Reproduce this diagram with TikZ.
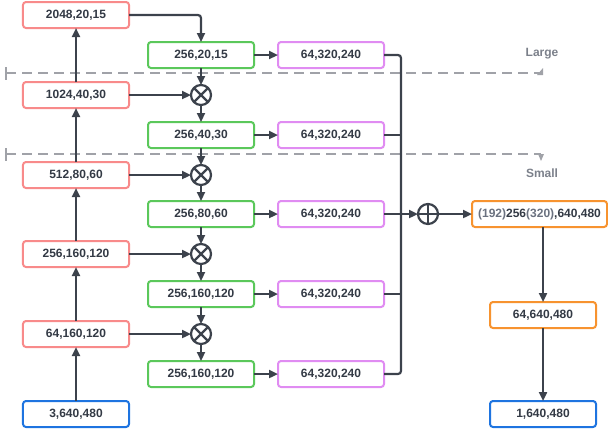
\documentclass[tikz,border=0pt]{standalone}
\usepackage{fontspec}
\setmainfont{Liberation Sans}
\usetikzlibrary{arrows.meta}
\definecolor{txt}{HTML}{333A45}
\definecolor{ln}{HTML}{3C424C}
\definecolor{redc}{HTML}{F88A8A}
\definecolor{grnc}{HTML}{5BC85B}
\definecolor{purc}{HTML}{E08CF2}
\definecolor{orgc}{HTML}{F7932F}
\definecolor{bluc}{HTML}{1E74E0}
\definecolor{dashc}{HTML}{A0A2A8}
\definecolor{lblc}{HTML}{7B808A}
\definecolor{subc}{HTML}{6B7280}
\begin{document}
\begin{tikzpicture}[x=1bp,y=-1bp,
  box/.style={draw, rounded corners=3bp, line width=2bp, minimum width=106bp, minimum height=26bp,
    inner sep=0pt, outer sep=0pt, fill=white, text=txt, font=\fontsize{12bp}{14bp}\selectfont\bfseries},
  redb/.style={box, draw=redc},
  grnb/.style={box, draw=grnc},
  purb/.style={box, draw=purc},
  orgb/.style={box, draw=orgc},
  blub/.style={box, draw=bluc},
  opc/.style={circle, draw=ln, line width=2.2bp, minimum size=20bp, inner sep=0pt, outer sep=0pt},
  conn/.style={draw=ln, line width=2.2bp},
  arr/.style={conn, -{Triangle[length=9bp,width=8bp]}},
  dsh/.style={draw=dashc, line width=1.5bp, dash pattern=on 10bp off 6bp},
  lbl/.style={text=lblc, font=\fontsize{12bp}{14bp}\selectfont\bfseries, inner sep=0pt}
]
\useasboundingbox (0,0) rectangle (608,430);

% dashed separators
\draw[dsh] (6,73) -- (541,73);
\draw[draw=dashc, line width=1.5bp] (6,67) -- (6,80);
\fill[dashc] (537,75) -- (543,75) -- (543,68) -- cycle;
\draw[dsh] (6,154) -- (541,154);
\draw[draw=dashc, line width=1.5bp] (6,148) -- (6,161);
\fill[dashc] (538,154) -- (544,154) -- (541,161) -- cycle;
\node[lbl] (large) at (542,54) {Large};
\node[lbl] (small) at (542,173) {Small};

% encoder (red)
\node[redb] (r1) at (76,15) {2048,20,15};
\node[redb] (r2) at (76,95) {1024,40,30};
\node[redb] (r3) at (76,175) {512,80,60};
\node[redb] (r4) at (76,254) {256,160,120};
\node[redb] (r5) at (76,334) {64,160,120};
\node[blub] (in) at (76,414) {3,640,480};

% green
\node[grnb] (g1) at (201,55) {256,20,15};
\node[grnb] (g2) at (201,135) {256,40,30};
\node[grnb] (g3) at (201,214) {256,80,60};
\node[grnb] (g4) at (201,294) {256,160,120};
\node[grnb] (g5) at (201,374) {256,160,120};

% purple
\node[purb] (p1) at (331,55) {64,320,240};
\node[purb] (p2) at (331,135) {64,320,240};
\node[purb] (p3) at (331,214) {64,320,240};
\node[purb] (p4) at (331,294) {64,320,240};
\node[purb] (p5) at (331,374) {64,320,240};

% multiply circles
\foreach \i/\y in {1/95,2/175,3/254,4/334} {
  \node[opc] (m\i) at (201,\y) {};
  \draw[conn] (m\i.north west) -- (m\i.south east) (m\i.north east) -- (m\i.south west);
}
% plus circle
\node[opc] (pl) at (428,214) {};
\draw[conn] (pl.north) -- (pl.south) (pl.west) -- (pl.east);

% right column
\node[orgb, minimum width=135bp] (o1) at (539.5,214) {\textcolor{subc}{(192)}256\textcolor{subc}{(320)},640,480};
\node[orgb] (o2) at (543,315) {64,640,480};
\node[blub] (out) at (543,414) {1,640,480};

% encoder arrows
\draw[arr] (in.north) -- (r5.south);
\draw[arr] (r5.north) -- (r4.south);
\draw[arr] (r4.north) -- (r3.south);
\draw[arr] (r3.north) -- (r2.south);
\draw[arr] (r2.north) -- (r1.south);

% lateral
\draw[arr, rounded corners=3bp] (r1.east) -| (g1.north);
\draw[arr] (r2.east) -- (m1.west);
\draw[arr] (r3.east) -- (m2.west);
\draw[arr] (r4.east) -- (m3.west);
\draw[arr] (r5.east) -- (m4.west);

% top-down path
\draw[arr] (g1.south) -- (m1.north);
\draw[arr] (m1.south) -- (g2.north);
\draw[arr] (g2.south) -- (m2.north);
\draw[arr] (m2.south) -- (g3.north);
\draw[arr] (g3.south) -- (m3.north);
\draw[arr] (m3.south) -- (g4.north);
\draw[arr] (g4.south) -- (m4.north);
\draw[arr] (m4.south) -- (g5.north);

% green to purple
\foreach \i in {1,...,5} { \draw[arr] (g\i.east) -- (p\i.west); }

% bus
\coordinate (bt) at (401,55);
\coordinate (bb) at (401,374);
\draw[conn, rounded corners=3bp] (p1.east) -- (bt) -- (bb) -- (p5.east);
\draw[conn] (p2.east) -- (p2.east -| bt);
\draw[conn] (p4.east) -- (p4.east -| bt);
\draw[arr] (p3.east) -- (pl.west);
\draw[arr] (pl.east) -- (o1.west);

% decoder
\draw[arr] (o2.north |- o1.south) -- (o2.north);
\draw[arr] (o2.south) -- (out.north);
\end{tikzpicture}
\end{document}
